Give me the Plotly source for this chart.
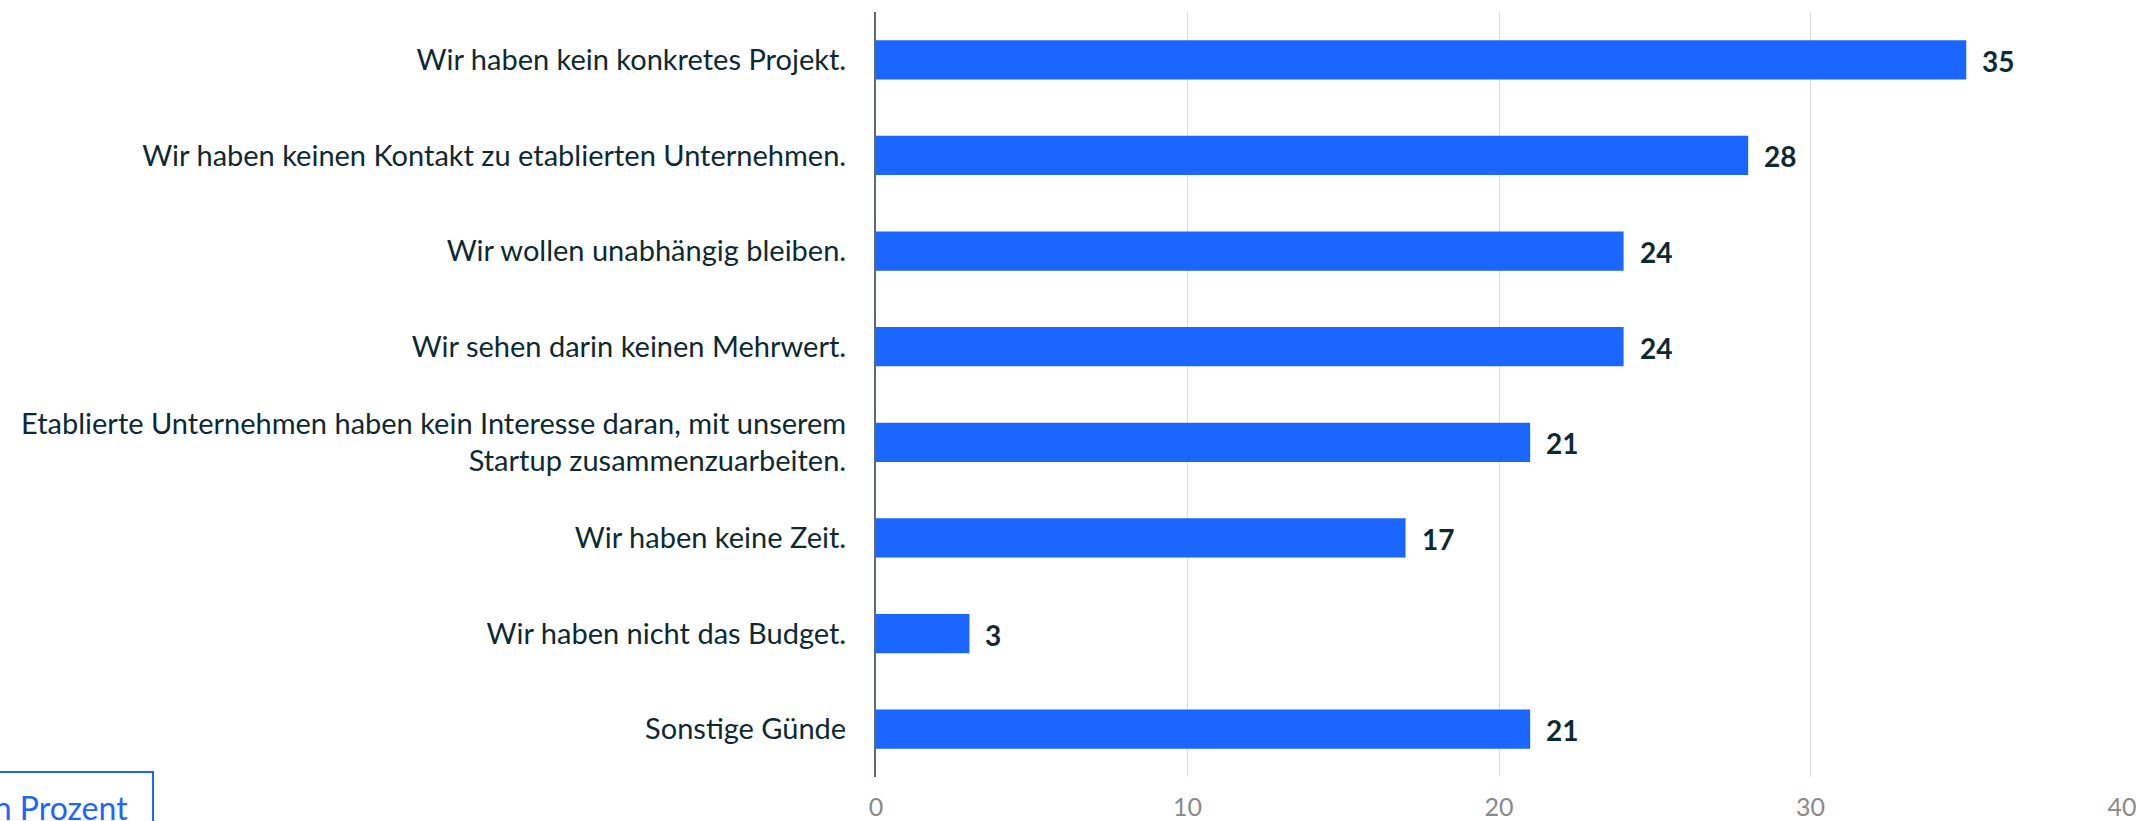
import plotly.graph_objects as go

categories = [
    "Wir haben kein konkretes Projekt.",
    "Wir haben keinen Kontakt zu etablierten Unternehmen.",
    "Wir wollen unabhängig bleiben.",
    "Wir sehen darin keinen Mehrwert.",
    "Etablierte Unternehmen haben kein Interesse daran, mit unserem<br>Startup zusammenzuarbeiten.",
    "Wir haben keine Zeit.",
    "Wir haben nicht das Budget.",
    "Sonstige Günde",
]
values = [35, 28, 24, 24, 21, 17, 3, 21]
x_ticks = [0, 10, 20, 30, 40]
unit_label = "in Prozent"

W, H = 2136, 821
ML, MR, MT, MB = 876, 14, 12, 44
PW, PH = W - ML - MR, H - MT - MB

def px_x(p):
    return (p - ML) / PW

def px_y(p):
    return (H - MB - p) / PH

BLUE = "#1a66ff"
DARK = "#0d2a33"
FONT = "Lato, 'Noto Sans', sans-serif"

fig = go.Figure()
fig.add_trace(go.Bar(
    x=values, y=categories, orientation="h",
    marker=dict(color=BLUE, line=dict(width=0)),
    width=0.41, hoverinfo="skip",
))

for c, v in zip(categories, values):
    fig.add_annotation(
        x=v, y=c, xref="x", yref="y", text=f"<b>{v}</b>",
        showarrow=False, xanchor="left", xshift=14, yshift=-1,
        font=dict(family=FONT, size=28, color=DARK),
    )

# unit box (partly outside the page, as in the reference)
fig.add_shape(
    type="rect", xref="paper", yref="paper",
    x0=px_x(-40), x1=px_x(153), y0=px_y(900), y1=px_y(772),
    line=dict(color=BLUE, width=2), fillcolor="white", layer="above",
)
fig.add_annotation(
    xref="paper", yref="paper",
    x=px_x(130), y=px_y(829),
    xanchor="right", yanchor="bottom",
    text=unit_label, showarrow=False,
    font=dict(family=FONT, size=32, color=BLUE),
)

fig.update_layout(
    width=W, height=H,
    margin=dict(l=ML, r=MR, t=MT, b=MB, autoexpand=False),
    plot_bgcolor="white", paper_bgcolor="white",
    showlegend=False,
    font=dict(family=FONT),
    xaxis=dict(
        range=[0, 40], tickvals=x_ticks, showgrid=True, gridcolor="#dcdcdc",
        gridwidth=1, zeroline=False, showline=False, automargin=False,
        tickfont=dict(family=FONT, size=25, color="#8a8a8a"),
        ticklabelstandoff=13, ticklabeloverflow="allow", fixedrange=True,
    ),
    yaxis=dict(
        autorange="reversed", showline=True, linecolor="#5b6b73", linewidth=2,
        showgrid=False, automargin=False,
        tickfont=dict(family=FONT, size=29, color=DARK),
        ticklabelstandoff=22, fixedrange=True,
    ),
)

fig.write_html(
    "out.html",
    config={"displayModeBar": False},
    post_script="document.body.style.margin='0';document.body.style.overflow='hidden';",
)
